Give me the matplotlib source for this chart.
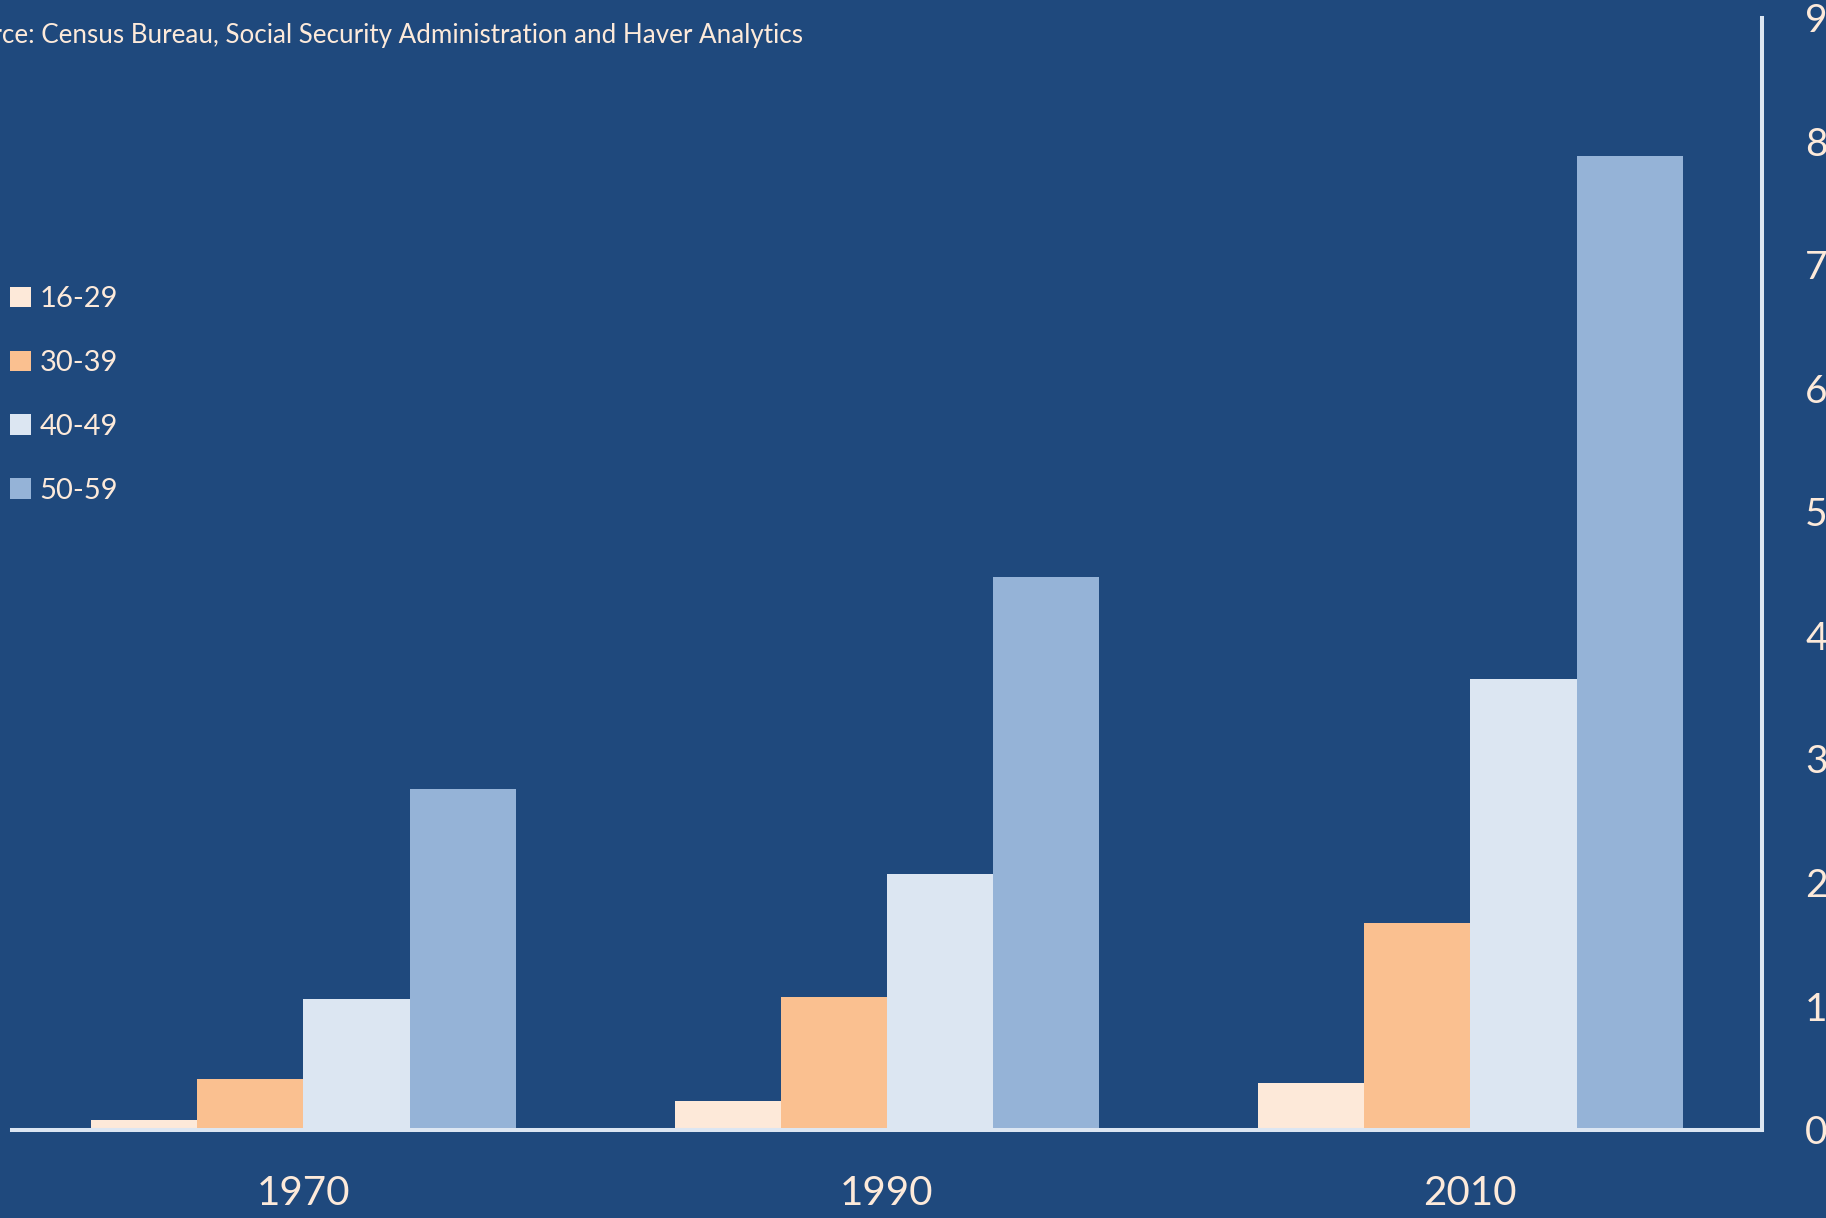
import matplotlib.pyplot as plt
import numpy as np

years = ["1970", "1990", "2010"]
age_groups = ["16-29", "30-39", "40-49", "50-59"]

vals_16_29 = [0.08, 0.23, 0.38]
vals_30_39 = [0.41, 1.07, 1.67]
vals_40_49 = [1.06, 2.07, 3.65]
vals_50_59 = [2.76, 4.47, 7.88]

yticks = [0, 1, 2, 3, 4, 5, 6, 7, 8, 9]

BG = "#1F497D"
TEXT = "#FDEADA"
AXIS = "#DCE6F2"
COLORS = ["#FDE9D9", "#FAC090", "#DCE6F2", "#95B3D7"]

plt.rcParams["font.family"] = ["Lato", "DejaVu Sans"]


def main():
    fig = plt.figure(figsize=(18.26, 12.18), dpi=100, facecolor=BG)
    ax = fig.add_axes([0.0064, 0.0726, 0.9586, 0.913])
    ax.set_facecolor(BG)

    series = [vals_16_29, vals_30_39, vals_40_49, vals_50_59]
    x = np.arange(len(years))
    width = 0.182

    for i, (label, vals) in enumerate(zip(age_groups, series)):
        offset = (i - 1.5) * width
        ax.bar(x + offset, vals, width, color=COLORS[i], label=label,
               edgecolor="none", zorder=2)

    ax.set_xlim(-0.5, 2.5)
    ax.set_ylim(0, 9)

    # value axis sits on the right, no tick marks
    ax.yaxis.tick_right()
    ax.set_yticks(yticks)
    ax.set_yticklabels([str(t) for t in yticks])
    ax.tick_params(axis="y", length=0, pad=31, labelsize=28, labelcolor=TEXT)

    ax.set_xticks(x)
    ax.set_xticklabels(years)
    ax.tick_params(axis="x", length=0, pad=33, labelsize=29, labelcolor=TEXT)

    for side in ["top", "left"]:
        ax.spines[side].set_visible(False)
    for side in ["bottom", "right"]:
        ax.spines[side].set_color(AXIS)
        ax.spines[side].set_linewidth(2.9)
        ax.spines[side].set_zorder(3)

    leg = ax.legend(
        loc="upper left",
        bbox_to_anchor=(0.0055, 0.765),
        bbox_transform=fig.transFigure,
        frameon=False,
        fontsize=21,
        handlelength=0.72,
        handleheight=0.72,
        handletextpad=0.3,
        labelspacing=1.3,
        borderpad=0,
        borderaxespad=0,
    )
    for t in leg.get_texts():
        t.set_color(TEXT)

    fig.text(0.44, 0.971,
             "Source: Census Bureau, Social Security Administration and Haver Analytics",
             ha="right", va="center", fontsize=18.75, color=TEXT)

    fig.savefig("out.png", dpi=100, facecolor=BG)
    plt.close(fig)


if __name__ == "__main__":
    main()
